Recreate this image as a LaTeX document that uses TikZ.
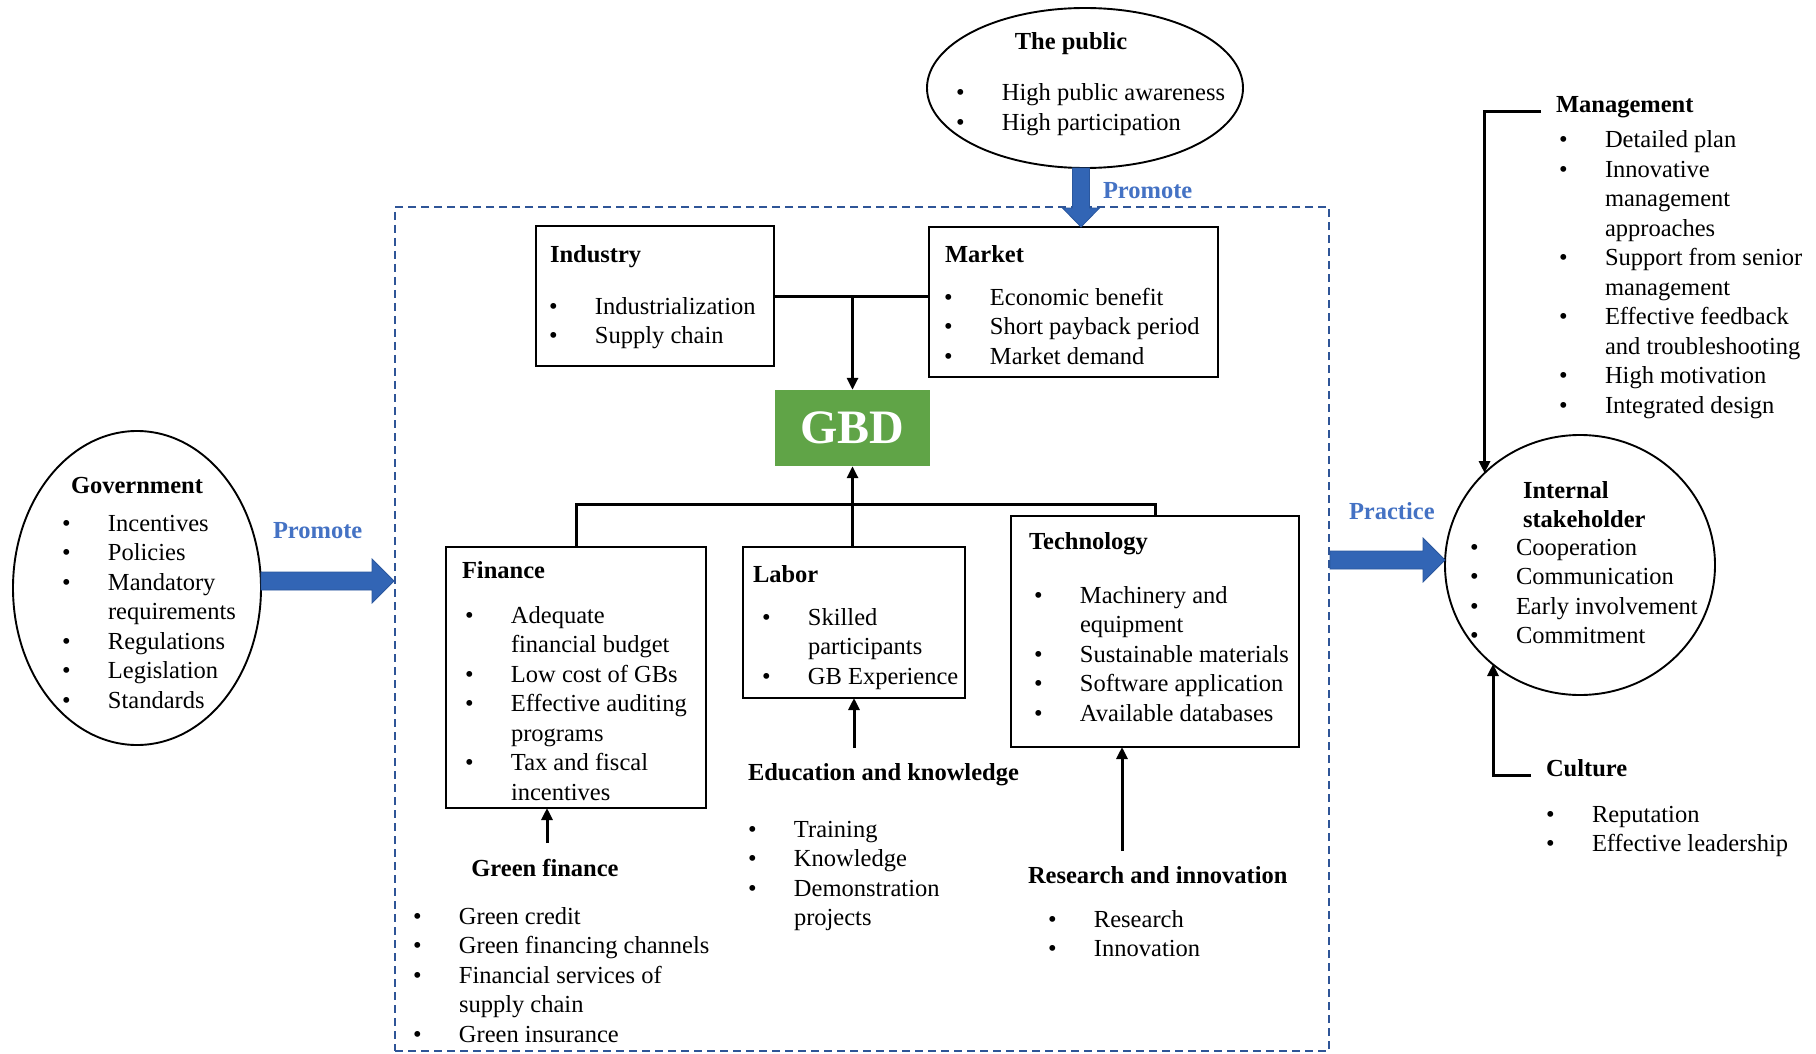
\documentclass[tikz,border=0pt]{standalone}
\usepackage{fontspec}
\setmainfont{Liberation Serif}
\usetikzlibrary{shapes.geometric,arrows.meta,calc}

\definecolor{arrowblue}{HTML}{3265B5}
\definecolor{arrowedge}{HTML}{2A579E}
\definecolor{labelblue}{HTML}{4472C4}
\definecolor{framecol}{HTML}{2F5597}
\definecolor{gbdgreen}{HTML}{60A447}

% bullet lists: a bullet column of fixed width, then the item text
\newlength\bulw
\setlength\bulw{46pt}
\newcommand\itm[1]{\makebox[\bulw][l]{•}#1}
\newcommand\cnt[1]{\hspace*{\bulw}#1}
\newcommand\lst[1]{\begin{tabular}[t]{@{}l@{}}#1\end{tabular}}

% wide blue block arrows (horizontal and downward)
\newcommand\hblock[2]{\filldraw[blockarrow] ($(#1)+(0,-9)$) -- ($(#2)+(-22,-9)$) -- ($(#2)+(-22,-22)$) -- (#2) -- ($(#2)+(-22,22)$) -- ($(#2)+(-22,9)$) -- ($(#1)+(0,9)$) -- cycle;}
\newcommand\vblock[2]{\filldraw[blockarrow] ($(#1)+(-8.5,0)$) -- ($(#2)+(-8.5,-19)$) -- ($(#2)+(-18.5,-19)$) -- (#2) -- ($(#2)+(18.5,-19)$) -- ($(#2)+(8.5,-19)$) -- ($(#1)+(8.5,0)$) -- cycle;}

\tikzset{
  txt/.style={font=\fontsize{24.5}{29.5}\selectfont, inner sep=0pt, outer sep=0pt},
  ttl/.style={font=\fontsize{24.5}{29.5}\selectfont\bfseries, inner sep=0pt, outer sep=0pt},
  blist/.style={txt, anchor=base west},
  panel/.style={draw, line width=2.4pt, inner sep=0pt, outer sep=0pt},
  oval/.style={ellipse, draw, line width=1.9pt, inner sep=0pt, outer sep=0pt},
  conn/.style={line width=3pt},
  arrowend/.style={-{Triangle[length=12pt,width=11pt]}},
  blockarrow/.style={fill=arrowblue, draw=arrowedge, line width=0.8pt},
  bluelabel/.style={ttl, text=labelblue, anchor=base west},
  dashframe/.style={draw=framecol, dash pattern=on 8pt off 5pt, line width=2pt, inner sep=0pt}
}

\begin{document}
\begin{tikzpicture}[x=1pt,y=-1pt]
\fill[white] (0,0) rectangle (1816,1054);
\useasboundingbox (0,0) rectangle (1816,1054);

% dashed frame around the core factors
\node[dashframe, minimum width=934pt, minimum height=844pt] (frame) at (862,629) {};

% ---------- external actors ----------
\node[oval, minimum width=316pt, minimum height=160pt] (public) at (1085,88) {};
\node[ttl, anchor=base] (pub-t) at (1071,50) {The public};
\node[blist] (pub-l) at (956,101) {\lst{\itm{High public awareness}\\ \itm{High participation}}};

\node[oval, minimum width=248pt, minimum height=314pt] (gov) at (137,588) {};
\node[ttl, anchor=base] (gov-t) at (137,493) {Government};
\node[blist] (gov-l) at (62,531) {\lst{\itm{Incentives}\\ \itm{Policies}\\ \itm{Mandatory}\\ \cnt{requirements}\\ \itm{Regulations}\\ \itm{Legislation}\\ \itm{Standards}}};

\node[oval, minimum width=270pt, minimum height=260pt] (internal) at (1580,565) {};
\node[ttl, anchor=base west] (int-t) at (1523,498) {\lst{Internal\\ stakeholder}};
\node[blist] (int-l) at (1470,555) {\lst{\itm{Cooperation}\\ \itm{Communication}\\ \itm{Early involvement}\\ \itm{Commitment}}};

% ---------- core boxes ----------
\node[panel, minimum width=238pt, minimum height=140pt] (industry) at (655,296) {};
\node[ttl, anchor=base west] (ind-t) at (550,262) {Industry};
\node[blist] (ind-l) at (549,314) {\lst{\itm{Industrialization}\\ \itm{Supply chain}}};

\node[panel, minimum width=289pt, minimum height=150pt] (market) at (1073.5,302) {};
\node[ttl, anchor=base west] (mkt-t) at (945,262) {Market};
\node[blist] (mkt-l) at (944,305) {\lst{\itm{Economic benefit}\\ \itm{Short payback period}\\ \itm{Market demand}}};

\node[fill=gbdgreen, minimum width=155pt, minimum height=76pt, inner sep=0pt, text=white,
      font=\fontsize{48}{50}\selectfont\bfseries] (gbd) at (852.5,428) {GBD};

\node[panel, minimum width=260pt, minimum height=261pt] (finance) at (576,677.5) {};
\node[ttl, anchor=base west] (fin-t) at (462,578) {Finance};
\node[blist] (fin-l) at (465,623) {\lst{\itm{Adequate}\\ \cnt{financial budget}\\ \itm{Low cost of GBs}\\ \itm{Effective auditing}\\ \cnt{programs}\\ \itm{Tax and fiscal}\\ \cnt{incentives}}};

\node[panel, minimum width=222pt, minimum height=151pt] (labor) at (854,622.5) {};
\node[ttl, anchor=base west] (lab-t) at (753,582) {Labor};
\node[blist] (lab-l) at (762,625) {\lst{\itm{Skilled}\\ \cnt{participants}\\ \itm{GB Experience}}};

\node[panel, minimum width=288pt, minimum height=231pt] (tech) at (1155,631.5) {};
\node[ttl, anchor=base west] (tec-t) at (1029,549) {Technology};
\node[blist] (tec-l) at (1034,603) {\lst{\itm{Machinery and}\\ \cnt{equipment}\\ \itm{Sustainable materials}\\ \itm{Software application}\\ \itm{Available databases}}};

% ---------- supporting factors ----------
\node[ttl, anchor=base west] (edu-t) at (748,780) {Education and knowledge};
\node[blist] (edu-l) at (748,837) {\lst{\itm{Training}\\ \itm{Knowledge}\\ \itm{Demonstration}\\ \cnt{projects}}};

\node[ttl, anchor=base] (grn-t) at (545,876) {Green finance};
\node[blist] (grn-l) at (413,924) {\lst{\itm{Green credit}\\ \itm{Green financing channels}\\ \itm{Financial services of}\\ \cnt{supply chain}\\ \itm{Green insurance}}};

\node[ttl, anchor=base west] (res-t) at (1028,883) {Research and innovation};
\node[blist] (res-l) at (1048,927) {\lst{\itm{Research}\\ \itm{Innovation}}};

\node[ttl, anchor=base west] (mgt-t) at (1556,113) {Management};
\node[blist] (mgt-l) at (1559,148) {\lst{\itm{Detailed plan}\\ \itm{Innovative}\\ \cnt{management}\\ \cnt{approaches}\\ \itm{Support from senior}\\ \cnt{management}\\ \itm{Effective feedback}\\ \cnt{and troubleshooting}\\ \itm{High motivation}\\ \itm{Integrated design}}};

\node[ttl, anchor=base west] (cul-t) at (1546,776) {Culture};
\node[blist] (cul-l) at (1546,822) {\lst{\itm{Reputation}\\ \itm{Effective leadership}}};

% ---------- blue block arrows and their labels ----------
\coordinate (pA) at ($(public.south)+(-4,0)$);
\coordinate (pB) at (pA |- market.north);
\vblock{pA}{pB}
\node[bluelabel] (promote-top) at (1103,199) {Promote};

\coordinate (gA) at (261,581);
\coordinate (gB) at (gA -| frame.west);
\hblock{gA}{gB}
\node[bluelabel] (promote-left) at (273,538) {Promote};

\coordinate (iA) at (1330,560);
\coordinate (iB) at (iA -| internal.west);
\hblock{iA}{iB}
\node[bluelabel] (practice) at (1349,519) {Practice};

% ---------- black connectors ----------
\draw[conn] (industry.east) -- (industry.east -| market.west);
\draw[conn, arrowend] (industry.east -| gbd.north) -- (gbd.north);

\coordinate (bus) at (852.5,504);
\draw[conn, arrowend] (gbd.south |- labor.north) -- (gbd.south);
\draw[conn] (finance.north) -- (finance.north |- bus) -- (tech.north |- bus) -- (tech.north);

\coordinate (edu-in) at (854,748);
\draw[conn, arrowend] (edu-in) -- (edu-in |- labor.south);
\coordinate (grn-in) at (547,843);
\draw[conn, arrowend] (grn-in) -- (grn-in |- finance.south);
\coordinate (res-in) at (1122,851);
\draw[conn, arrowend] (res-in) -- (res-in |- tech.south);

\coordinate (mgt-in) at (1541,112);
\draw[conn, arrowend] (mgt-in) -| (internal.north west);
\coordinate (cul-in) at (1531,775);
\coordinate (cul-end) at ($(internal.center)+(-87,99)$);
\draw[conn, arrowend] (cul-in) -| (cul-end);
\end{tikzpicture}
\end{document}
